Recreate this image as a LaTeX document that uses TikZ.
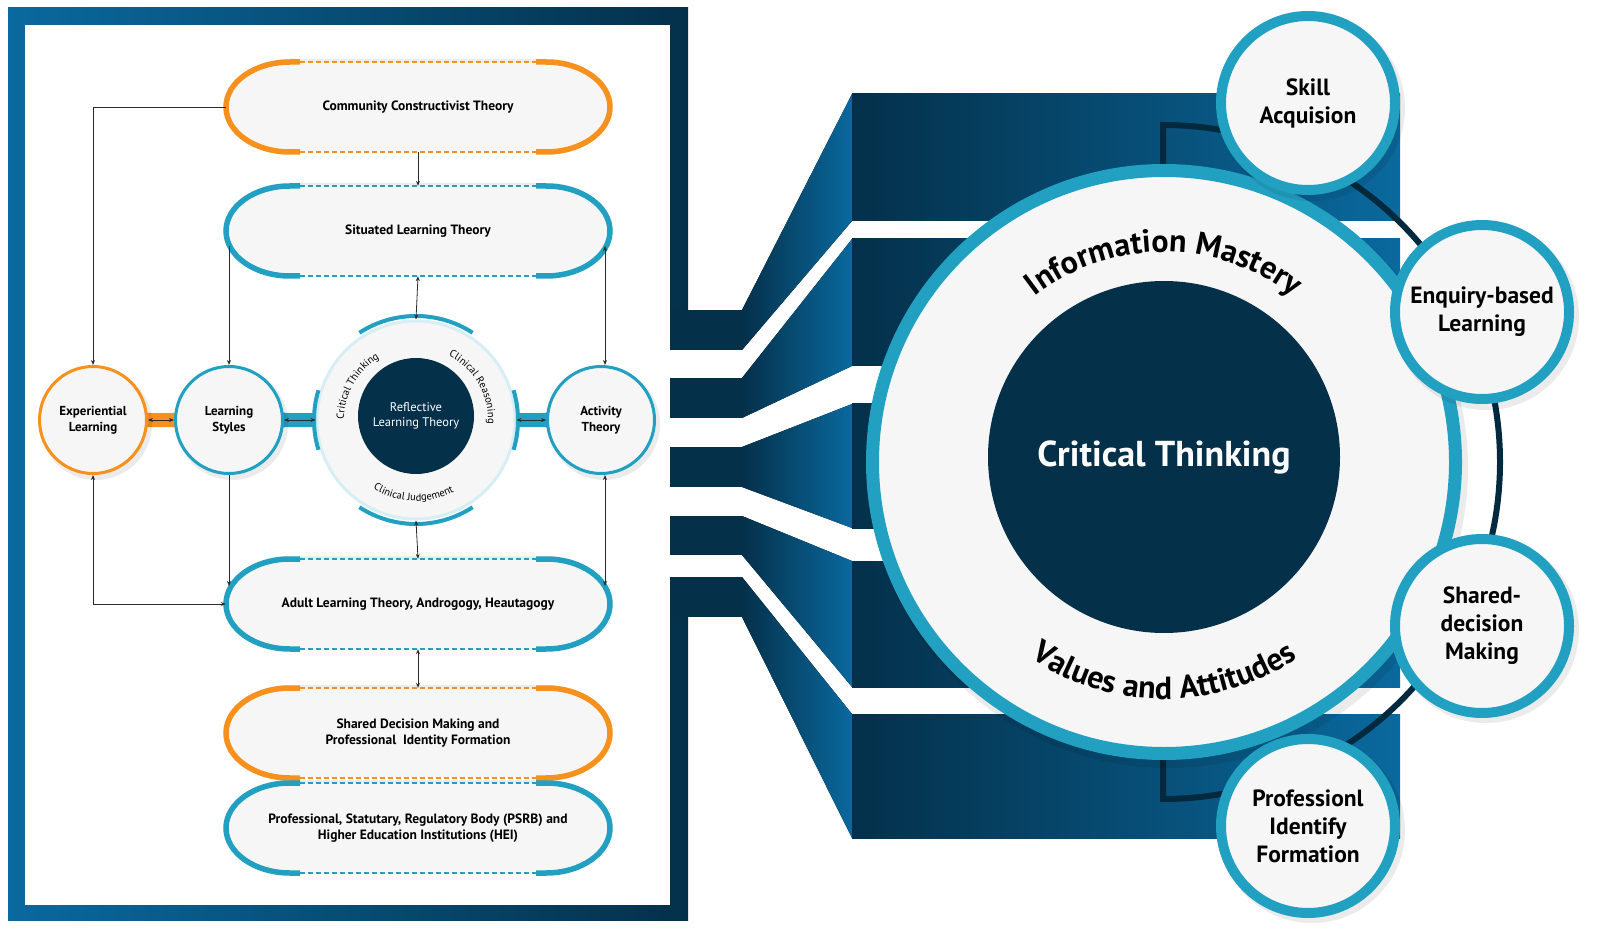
\documentclass[tikz,border=0pt]{standalone}
\usepackage{fontspec}
\setmainfont{PT Sans}
\usetikzlibrary{decorations.text,arrows.meta}
\definecolor{cteal}{HTML}{22A0C1}
\definecolor{corange}{HTML}{F7911E}
\definecolor{cnavy}{HTML}{04304A}
\definecolor{cblue}{HTML}{0A699E}
\definecolor{cgrey}{HTML}{F6F6F6}
\definecolor{cline}{HTML}{2B2B2B}
\tikzset{
  >={Stealth[length=5pt,width=4pt]},
  conn/.style={draw=cline,line width=0.8pt},
  pill/.style={rectangle,minimum width=384pt,minimum height=90pt,inner sep=0pt,align=center,font=\fontsize{13.5}{16}\selectfont\bfseries},
  lcirc/.style={circle,minimum size=107pt,fill=cgrey,line width=3pt,inner sep=0pt,align=center,font=\fontsize{13}{16}\selectfont\bfseries},
  rcirc/.style={circle,minimum size=174pt,fill=cgrey,draw=cteal,line width=10pt,inner sep=0pt,align=center,font=\fontsize{23.5}{28}\selectfont\bfseries},
  shade/.style={fill=black,opacity=0.08},
}
\newcommand\pillbox[4]{%
  \fill[shade] (290,-#2+48) arc[start angle=90,end angle=270,x radius=64,y radius=45] -- (546,-#2-42) arc[start angle=-90,end angle=90,x radius=64,y radius=45] -- cycle;
  \fill[cgrey] (290,-#2+45) arc[start angle=90,end angle=270,x radius=64,y radius=45] -- (546,-#2-45) arc[start angle=-90,end angle=90,x radius=64,y radius=45] -- cycle;
  \draw[#3,line width=5.5pt] (300,-#2+45) -- (290,-#2+45) arc[start angle=90,end angle=270,x radius=64,y radius=45] -- (300,-#2-45);
  \draw[#3,line width=5.5pt] (536,-#2-45) -- (546,-#2-45) arc[start angle=-90,end angle=90,x radius=64,y radius=45] -- (536,-#2+45);
  \draw[#3,line width=1.2pt,dash pattern=on 5pt off 3pt] (300,-#2+45) -- (536,-#2+45) (300,-#2-45) -- (536,-#2-45);
  \node[pill] (#1) at (418,-#2) {#4};
}
\newcommand\wire[4]{%
  \fill[cnavy] (670,-#1) rectangle (742,-#2);
  \fill[left color=cnavy,right color=cblue] (742,-#1) -- (852,-#3) -- (852,-#4) -- (742,-#2) -- cycle;
  \fill[left color=cnavy,right color=cblue] (852,-#3) rectangle (1400,-#4);
}
\begin{document}
\begin{tikzpicture}[x=1pt,y=1pt]
\useasboundingbox (0,0) rectangle (1617,-949);
\fill[white] (0,0) rectangle (1617,-949);
% left frame
\fill[left color=cblue,right color=cnavy] (8,-8) rectangle (688,-920);
\fill[white] (25,-25) rectangle (670,-905);
\fill[white] (670,-310) rectangle (689,-617);
% wires
\wire{310}{350}{94}{221}
\wire{378}{418}{239}{366}
\wire{447}{487}{404}{528}
\wire{516}{555}{561}{687}
\wire{577}{617}{714}{838}
% outer arc
\draw[cnavy!85!black,line width=6pt] (1163,-170) -- (1163,-125) arc[start angle=90,end angle=-90,radius=337] -- (1163,-760);
% big circle
\fill[shade] (1168,-468) circle (300);
\node[circle,fill=cgrey,draw=cteal,line width=13pt,minimum size=583pt,inner sep=0pt] (ring) at (1164,-462) {};
\node[circle,fill=cnavy,minimum size=352pt,inner sep=0pt,text=white,font=\fontsize{36}{40}\selectfont\bfseries] (ct) at (1164,-457) {Critical Thinking};
\path[decorate,decoration={text along path,text align=center,text={|\fontsize{32}{33}\selectfont\bfseries|Information Mastery}}] (1164,-462) ++(170:210) arc[start angle=170,end angle=10,radius=210];
\path[decorate,decoration={text along path,text align=center,text={|\fontsize{32}{33}\selectfont\bfseries|Values and Attitudes}}] (1164,-462) ++(190:237) arc[start angle=190,end angle=350,radius=237];
% right circles
\fill[shade] (1312,-108) circle (93);
\fill[shade] (1486,-317) circle (93);
\fill[shade] (1486,-630) circle (93);
\fill[shade] (1312,-830) circle (93);
\node[rcirc] (skill) at (1308,-103) {Skill\\Acquision};
\node[rcirc] (enq) at (1482,-312) {Enquiry-based\\Learning};
\node[rcirc] (sdmc) at (1482,-626) {Shared-\\decision\\Making};
\node[rcirc] (pif) at (1308,-826) {Professionl\\Identify\\Formation};
% pills
\pillbox{cct}{107}{corange}{Community Constructivist Theory}
\pillbox{slt}{231}{cteal}{Situated Learning Theory}
\pillbox{adult}{604}{cteal}{Adult Learning Theory, Androgogy, Heautagogy}
\pillbox{sdm}{733}{corange}{Shared Decision Making and\\Professional\ \ Identity Formation}
\pillbox{psrb}{828}{cteal}{Professional, Statutary, Regulatory Body (PSRB) and\\Higher Education Institutions (HEI)}
% necks
\fill[corange] (135,-408) .. controls (146,-413) .. (152,-413) -- (170,-413) .. controls (176,-413) .. (187,-408) -- (187,-432) .. controls (176,-427) .. (170,-427) -- (152,-427) .. controls (146,-427) .. (135,-432) -- cycle;
\fill[cteal] (272,-408) .. controls (283,-413) .. (290,-413) -- (316,-413) -- (316,-427) -- (290,-427) .. controls (283,-427) .. (272,-432) -- cycle;
\fill[cteal] (516,-413) -- (540,-413) .. controls (547,-413) .. (558,-408) -- (558,-432) .. controls (547,-427) .. (540,-427) -- (516,-427) -- cycle;
% left circles
\fill[shade] (96,-424) circle (56);
\fill[shade] (232,-424) circle (56);
\fill[shade] (604,-424) circle (56);
\node[lcirc,draw=corange] (exp) at (93,-420) {Experiential\\Learning};
\node[lcirc,draw=cteal] (ls) at (229,-420) {Learning\\Styles};
\node[lcirc,draw=cteal] (act) at (601,-420) {Activity\\Theory};
% reflective
\node[circle,minimum size=198pt,fill=cgrey,draw=cteal!18,line width=3pt,inner sep=0pt] (refl) at (416,-420) {};
\node[circle,minimum size=116pt,fill=cnavy,inner sep=0pt,text=white,align=center,font=\fontsize{12.5}{14.5}\selectfont] (rlt) at (416,-416) {Reflective\\Learning Theory};
\draw[cteal,line width=4pt] (416,-420) ++(57:104) arc[start angle=57,end angle=123,radius=104];
\draw[cteal,line width=4pt] (416,-420) ++(237:104) arc[start angle=237,end angle=303,radius=104];
\draw[cteal,line width=4pt] (416,-420) ++(163:102) arc[start angle=163,end angle=197,radius=102];
\draw[cteal,line width=4pt] (416,-420) ++(-17:102) arc[start angle=-17,end angle=17,radius=102];
\path[decorate,decoration={text along path,text align=center,text={|\fontsize{10.5}{11}\selectfont|Critical Thinking}}] (416,-420) ++(200:72) arc[start angle=200,end angle=100,radius=72];
\path[decorate,decoration={text along path,text align=center,text={|\fontsize{10.5}{11}\selectfont|Clinical Reasoning}}] (416,-420) ++(80:72) arc[start angle=80,end angle=-20,radius=72];
\path[decorate,decoration={text along path,text align=center,text={|\fontsize{10.5}{11}\selectfont|Clinical Judgement}}] (416,-420) ++(218:81) arc[start angle=218,end angle=318,radius=81];
% connectors
\coordinate (sltL) at (229,-246);
\coordinate (sltR) at (605,-246);
\coordinate (adL) at (229,-586);
\coordinate (adR) at (605,-586);
\draw[conn,->] (cct.west) -| (exp.north);
\draw[conn,->] (cct.south) -- (slt.north);
\draw[conn,<->] (slt.south) -- (refl.north);
\draw[conn,->] (sltL) -- (ls.north);
\draw[conn,<->] (sltR) -- (sltR |- act.north);
\draw[conn,->] (ls.south) -- (adL);
\draw[conn,<->] (adR |- act.south) -- (adR);
\draw[conn,<->] (exp.south) |- (adult.west);
\draw[conn,<->] (refl.south) -- (adult.north);
\draw[conn,<->] (adult.south) -- (sdm.north);
\draw[conn,<->] (exp.east) -- (ls.west);
\draw[conn,<->] (ls.east) -- (refl.west);
\draw[conn,<->] (refl.east) -- (act.west);
\end{tikzpicture}
\end{document}
